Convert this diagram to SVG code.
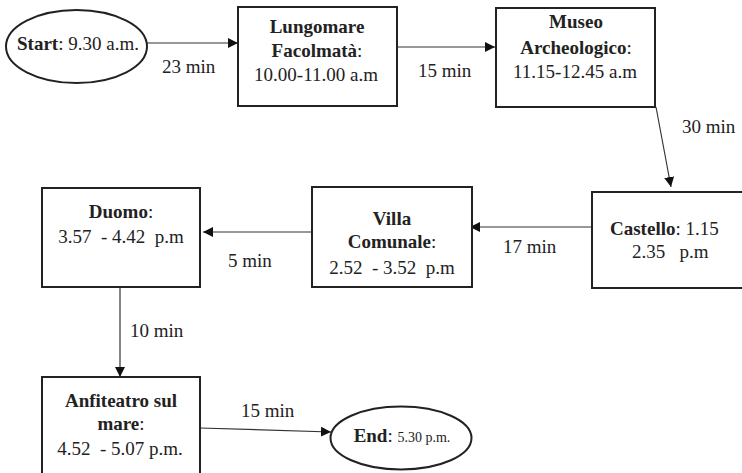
<svg xmlns="http://www.w3.org/2000/svg" width="742" height="473" viewBox="0 0 742 473">
<style>
text{font-family:'Liberation Serif',serif;font-size:19px;fill:#222;white-space:pre}
.b{font-weight:bold}
.box{fill:#fff;stroke:#222;stroke-width:2}
.ln{stroke:#333;stroke-width:1.2;fill:none;marker-end:url(#ah)}
.c{text-anchor:middle}
</style>
<defs>
<marker id="ah" viewBox="0 0 10 10" refX="10" refY="5" markerWidth="10" markerHeight="10" markerUnits="userSpaceOnUse" orient="auto">
<path d="M0,0 L10,5 L0,10 z" fill="#111"/>
</marker>
</defs>
<rect width="742" height="473" fill="#fff"/>
<g id="connectors">
<line class="ln" x1="147" y1="43" x2="238" y2="43"/>
<line class="ln" x1="397" y1="47" x2="495" y2="47"/>
<line class="ln" x1="656" y1="107" x2="671" y2="187"/>
<line class="ln" x1="592" y1="227" x2="470" y2="227"/>
<line class="ln" x1="312" y1="232" x2="203" y2="232"/>
<line class="ln" x1="120" y1="288" x2="120" y2="377"/>
<line class="ln" x1="200" y1="428" x2="331" y2="432"/>
<text x="162" y="73">23 min</text>
<text x="418" y="77">15 min</text>
<text x="682" y="133">30 min</text>
<text x="503" y="253">17 min</text>
<text x="228" y="267">5 min</text>
<text x="130" y="337">10 min</text>
<text x="241" y="417">15 min</text>
</g>
<g id="start">
<ellipse cx="76.5" cy="46.5" rx="70.5" ry="36.5" fill="#fff" stroke="#222" stroke-width="2"/>
<text x="78" y="50" class="c"><tspan class="b">Start</tspan>: 9.30 a.m.</text>
</g>
<g id="lungomare">
<rect class="box" x="238" y="7" width="159" height="99"/>
<text x="317" y="33" class="c b">Lungomare</text>
<text x="317" y="57" class="c"><tspan class="b">Facolmatà</tspan>:</text>
<text x="316" y="81" class="c">10.00-11.00 a.m</text>
</g>
<g id="museo">
<rect class="box" x="496" y="8" width="159" height="99"/>
<text x="576" y="28" class="c b">Museo</text>
<text x="576" y="54" class="c"><tspan class="b">Archeologico</tspan>:</text>
<text x="575" y="78" class="c">11.15-12.45 a.m</text>
</g>
<g id="castello">
<rect class="box" x="592" y="192" width="160" height="96"/>
<text x="610" y="235"><tspan class="b">Castello</tspan>: 1.15</text>
<text x="632" y="258">2.35   p.m</text>
</g>
<g id="villa">
<rect class="box" x="312" y="187" width="160" height="100"/>
<text x="392" y="225" class="c b">Villa</text>
<text x="392" y="248" class="c"><tspan class="b">Comunale</tspan>:</text>
<text x="392" y="274" class="c">2.52  - 3.52  p.m</text>
</g>
<g id="duomo">
<rect class="box" x="42" y="188" width="158" height="99"/>
<text x="121" y="218" class="c"><tspan class="b">Duomo</tspan>:</text>
<text x="121" y="243" class="c">3.57  - 4.42  p.m</text>
</g>
<g id="anfiteatro">
<rect class="box" x="42" y="377" width="158" height="110"/>
<text x="121" y="407" class="c b">Anfiteatro sul</text>
<text x="121" y="430" class="c"><tspan class="b">mare</tspan>:</text>
<text x="120" y="455" class="c">4.52  - 5.07 p.m.</text>
</g>
<g id="end">
<ellipse cx="401" cy="438" rx="70.5" ry="31.5" fill="#fff" stroke="#222" stroke-width="2"/>
<text x="402" y="442" class="c"><tspan class="b">End</tspan>: <tspan style="font-size:14px">5.30 p.m.</tspan></text>
</g>
</svg>
